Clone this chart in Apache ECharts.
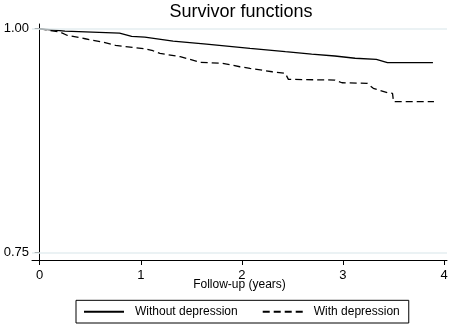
<!DOCTYPE html>
<html>
<head>
    <title>Survivor functions</title>
    <script src="https://cdn.jsdelivr.net/npm/echarts@6/dist/echarts.min.js"></script>
</head>
<body style="margin:0">
    <div id="chart" style="width: 454px; height: 324px;"></div>
    <script>
        // follow-up time (years) and survival estimate
        const withoutTime = [0, 0.25, 0.79, 0.91, 1.04, 1.32, 1.65, 2.08, 2.43, 2.69, 2.92, 3.12, 3.33, 3.44, 3.89];
        const withoutSurv = [1.0, 0.9974, 0.9952, 0.9915, 0.9907, 0.9862, 0.9829, 0.978, 0.9743, 0.9717, 0.9695, 0.967, 0.9658, 0.962, 0.962];

        const withTime = [0, 0.20, 0.27, 0.45, 0.62, 0.75, 1.04, 1.12, 1.19, 1.39, 1.59, 1.81, 1.98, 2.08, 2.30, 2.43, 2.46, 2.92, 2.99, 3.24, 3.30, 3.44, 3.49, 3.50, 3.90];
        const withSurv = [1.0, 0.9963, 0.9927, 0.9888, 0.9851, 0.9814, 0.9776, 0.9754, 0.9725, 0.9687, 0.9624, 0.9613, 0.9575, 0.9557, 0.9519, 0.9501, 0.9434, 0.9426, 0.9396, 0.939, 0.9334, 0.9284, 0.9278, 0.9184, 0.9184];

        const xTicks = [0, 1, 2, 3, 4];
        const yTicks = [0.75, 1.0];
        const seriesNames = ['Without depression', 'With depression'];

        const font = 'Liberation Sans';

        function pairs(xs, ys) {
            return xs.map((x, i) => [x, ys[i]]);
        }

        const option = {
            animation: false,
            backgroundColor: '#fff',
            title: {
                text: 'Survivor functions',
                left: 241,
                textAlign: 'center',
                top: -3,
                padding: 0,
                textStyle: { fontFamily: font, fontSize: 18, fontWeight: 'normal', color: '#000' }
            },
            grid: { left: 32, right: 7, top: 24, bottom: 64 },
            xAxis: {
                type: 'value',
                min: -0.076,
                max: 4.029,
                name: 'Follow-up (years)',
                nameLocation: 'middle',
                nameGap: 14,
                nameMoveOverlap: false,
                nameTextStyle: { fontFamily: font, fontSize: 12, color: '#000', verticalAlign: 'top' },
                axisLine: { show: true, lineStyle: { color: '#000', width: 1 } },
                axisTick: { show: true, length: 5, customValues: xTicks, lineStyle: { color: '#000' } },
                axisLabel: { customValues: xTicks, fontFamily: font, fontSize: 13, color: '#000', margin: 4 },
                splitLine: { show: false }
            },
            yAxis: {
                type: 'value',
                min: 0.7414,
                max: 1.0053,
                axisLine: { show: true, lineStyle: { color: '#000', width: 1 } },
                axisTick: { show: true, length: 5, customValues: yTicks, lineStyle: { color: '#000' } },
                axisLabel: {
                    customValues: yTicks, fontFamily: font, fontSize: 13, color: '#000', margin: 3,
                    formatter: v => v.toFixed(2)
                },
                splitLine: { show: false }
            },
            legend: {
                data: seriesNames,
                left: 76,
                bottom: 1,
                padding: [1, 9, 1, 7],
                itemGap: 24,
                itemWidth: 40,
                itemHeight: 4,
                borderColor: '#000',
                borderWidth: 1,
                borderRadius: 0,
                itemStyle: { opacity: 0 },
                textStyle: { fontFamily: font, fontSize: 12, color: '#000', padding: [0, 0, 0, 6] }
            },
            series: [
                {
                    name: seriesNames[0],
                    type: 'line',
                    symbol: 'none',
                    data: pairs(withoutTime, withoutSurv),
                    lineStyle: { color: '#000', width: 1.3, type: 'solid' },
                    itemStyle: { color: '#000' },
                    markLine: {
                        silent: true,
                        symbol: 'none',
                        label: { show: false },
                        lineStyle: { color: '#e4eef0', width: 1.5, type: 'solid' },
                        data: yTicks.map(v => ({ yAxis: v }))
                    },
                    z: 3
                },
                {
                    name: seriesNames[1],
                    type: 'line',
                    symbol: 'none',
                    data: pairs(withTime, withSurv),
                    lineStyle: { color: '#000', width: 1.3, type: [7, 4] },
                    itemStyle: { color: '#000' },
                    z: 3
                }
            ]
        };

        const myChart = echarts.init(document.getElementById('chart'), null, { renderer: 'canvas' });
        myChart.setOption(option);
    </script>
</body>
</html>
